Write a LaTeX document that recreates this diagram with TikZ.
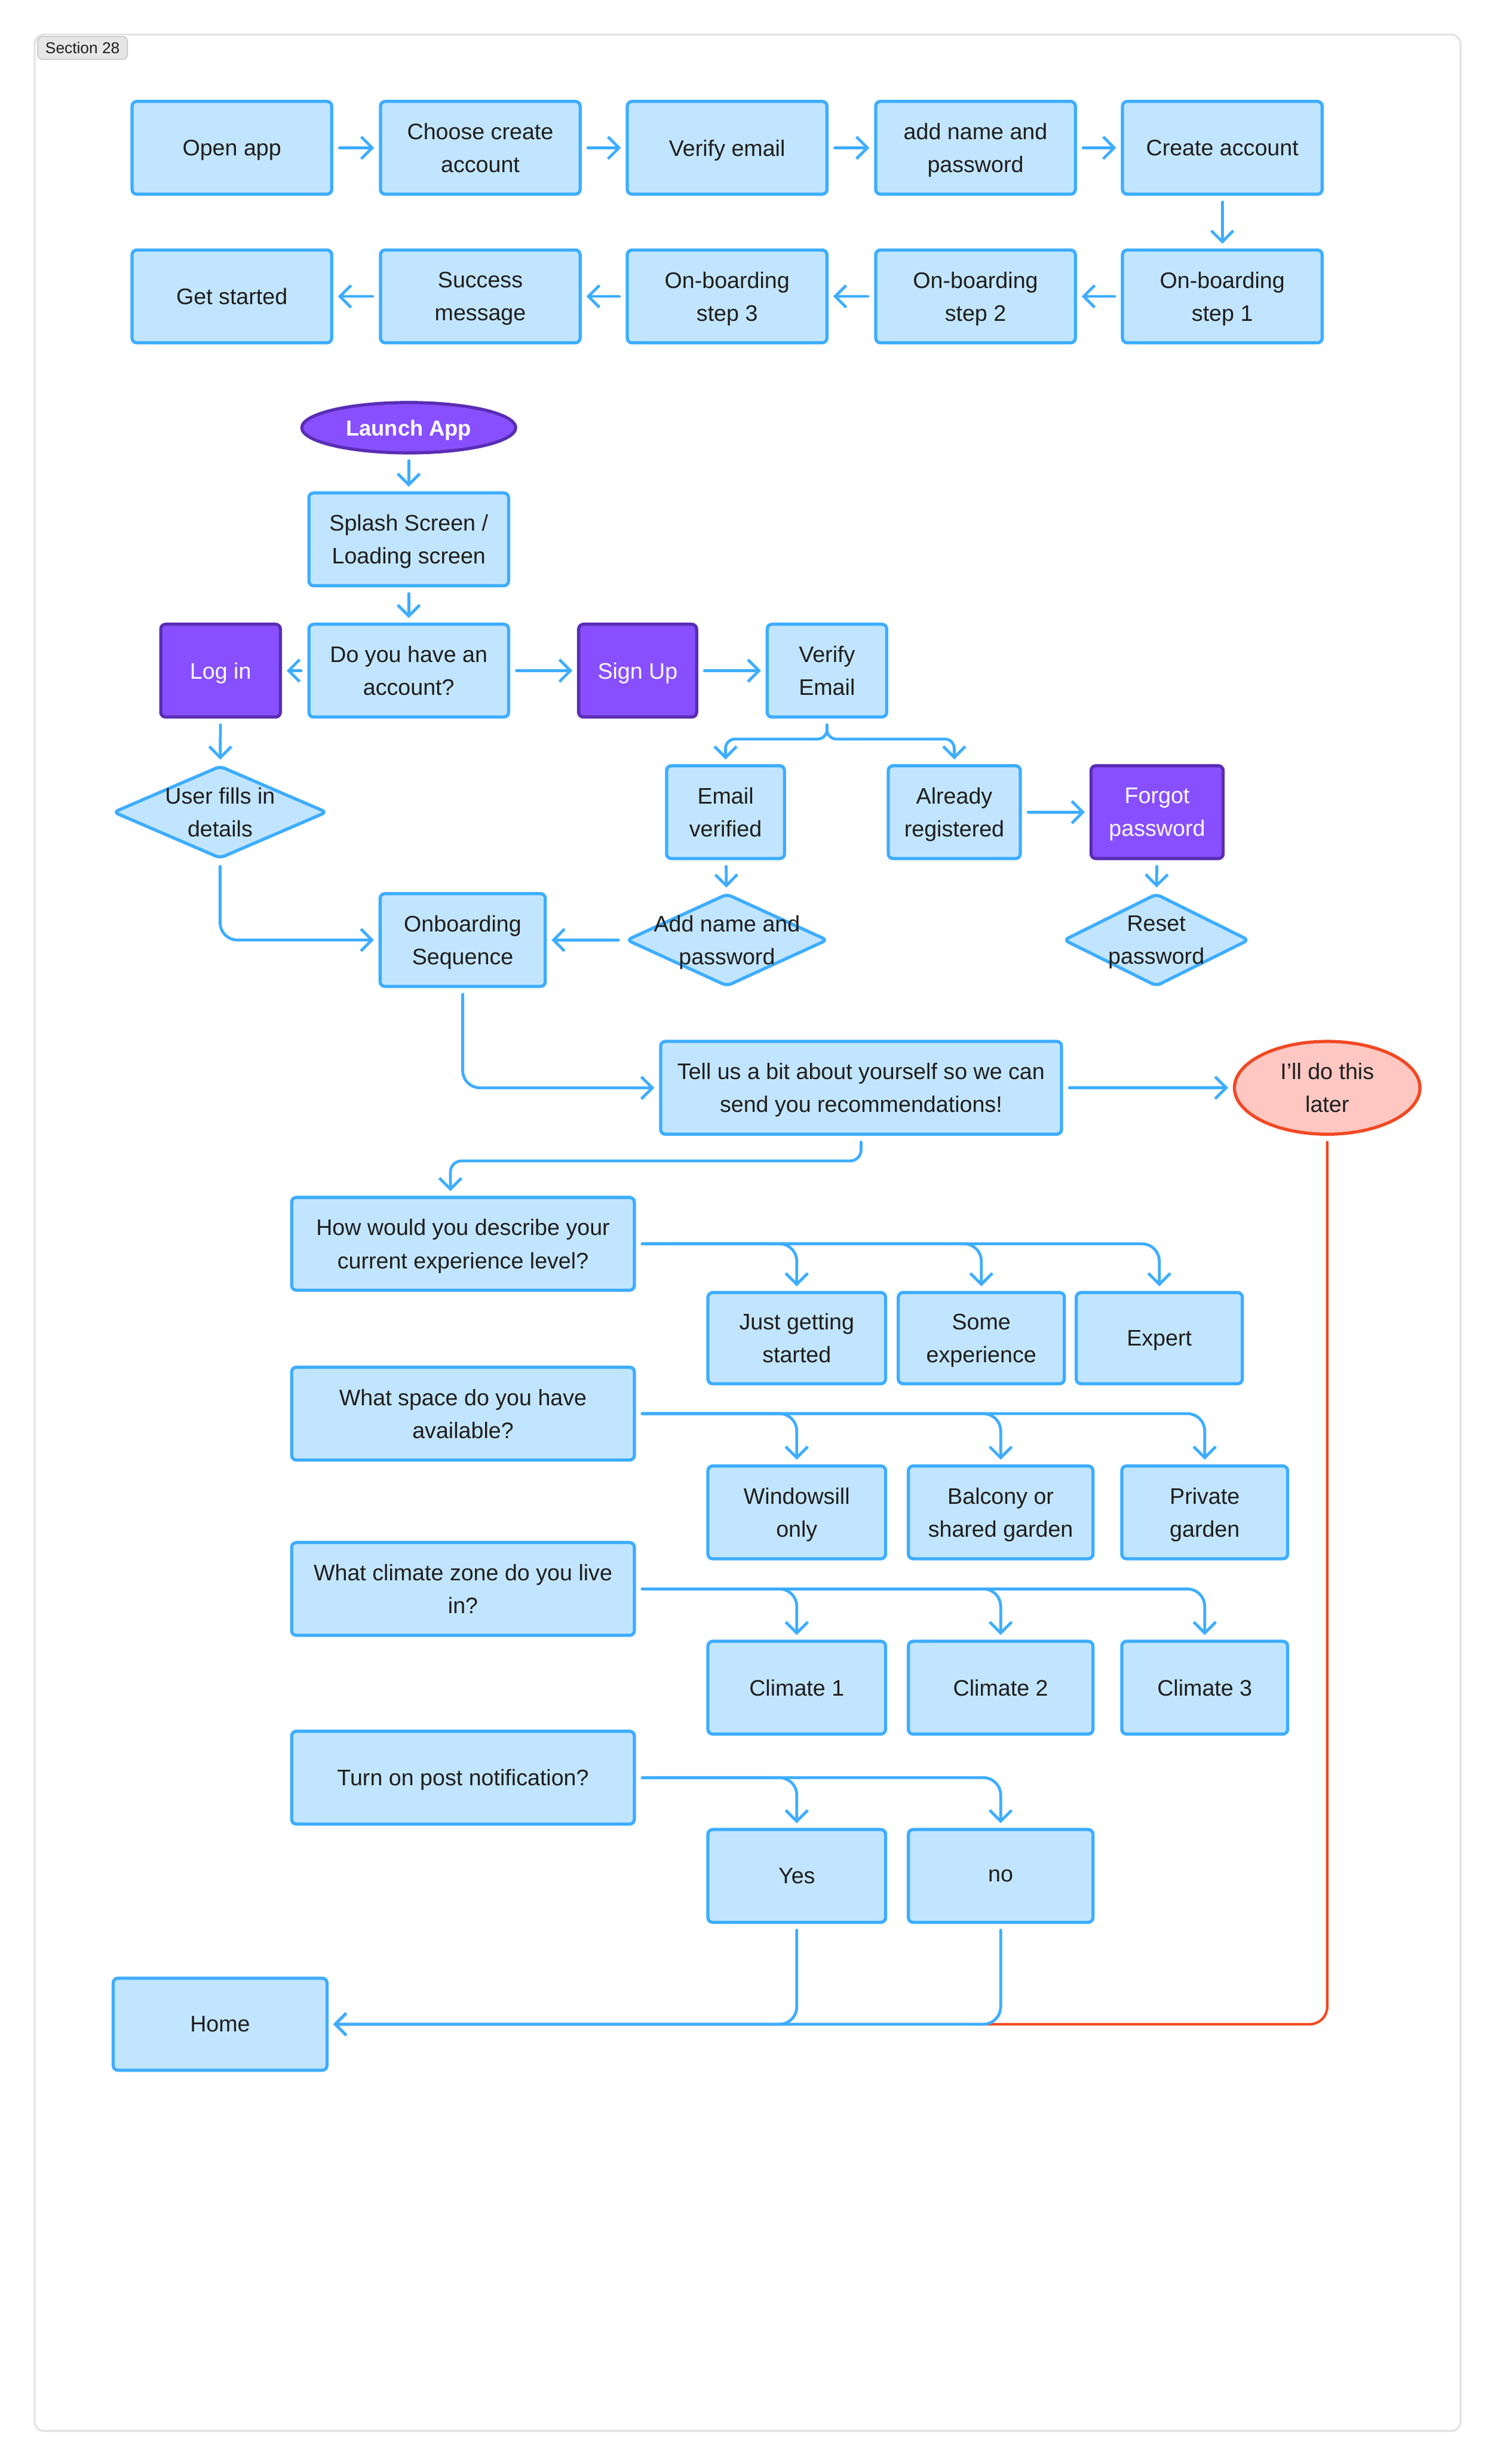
\documentclass[tikz,border=0pt]{standalone}
\usepackage{fontspec}
\setmainfont{Liberation Sans}
\usetikzlibrary{arrows.meta,shapes.geometric}
\definecolor{bfill}{HTML}{C2E5FF}
\definecolor{bstroke}{HTML}{3DADFF}
\definecolor{pfill}{HTML}{874FFF}
\definecolor{pstroke}{HTML}{5A2DB5}
\definecolor{rfill}{HTML}{FFC7C2}
\definecolor{rstroke}{HTML}{F24822}
\definecolor{txt}{HTML}{1E1E1E}
\definecolor{framec}{HTML}{E2E2E2}
\definecolor{secfill}{HTML}{E6E6E6}
\definecolor{secstroke}{HTML}{C4C4C4}
\newcommand\mfont{\fontsize{14.3}{21}\selectfont}
\begin{document}
\begin{tikzpicture}[x=1pt,y=-1pt,
  sz/.style 2 args={minimum width=#1pt, minimum height=#2pt},
  box/.style={draw=bstroke, fill=bfill, line width=2pt, rounded corners=3pt, text=txt, font=\mfont, align=center, inner sep=0pt, text depth=0pt},
  pbox/.style={box, draw=pstroke, fill=pfill, text=white},
  dia/.style={diamond, draw=bstroke, fill=bfill, line width=2pt, rounded corners=3pt, inner sep=0pt},
  dlab/.style={text=txt, font=\mfont, align=center, inner sep=0pt, text depth=0pt},
  conn/.style={draw=bstroke, line width=1.8pt, line cap=round, -{Straight Barb[length=7pt,width=14pt]}, shorten <=4pt, shorten >=3pt, rounded corners=11pt},
  rconn/.style={conn, draw=rstroke, line width=1.6pt},
  frame/.style={draw=framec, line width=1.2pt, fill=white, rounded corners=6pt, inner sep=0pt},
  seclab/.style={draw=secstroke, fill=secfill, line width=0.6pt, rounded corners=3pt, text=txt, font=\fontsize{10}{12}\selectfont, inner sep=0pt, text depth=0pt}
]
\fill[white] (0,0) rectangle (950,1567);
\useasboundingbox (0,0) rectangle (950,1567);

% frame and section label
\node[frame, sz={907}{1524}] (frame) at (475.5,784) {};
\node[seclab, sz={57}{14.5}] (sec) at (52.5,30.5) {Section 28};

% top rows
\node[box, sz={127}{59}] (open) at (147.5,94) {Open app};
\node[box, sz={127}{59}] (choose) at (305.5,94) {Choose create\\account};
\node[box, sz={127}{59}] (verifye) at (462.5,94) {Verify email};
\node[box, sz={127}{59}] (addnp) at (620.5,94) {add name and\\password};
\node[box, sz={127}{59}] (create) at (777.5,94) {Create account};
\node[box, sz={127}{59}] (getstarted) at (147.5,188.5) {Get started};
\node[box, sz={127}{59}] (success) at (305.5,188.5) {Success\\message};
\node[box, sz={127}{59}] (step3) at (462.5,188.5) {On-boarding\\step 3};
\node[box, sz={127}{59}] (step2) at (620.5,188.5) {On-boarding\\step 2};
\node[box, sz={127}{59}] (step1) at (777.5,188.5) {On-boarding\\step 1};

\draw[conn] (open) -- (choose);
\draw[conn] (choose) -- (verifye);
\draw[conn] (verifye) -- (addnp);
\draw[conn] (addnp) -- (create);
\draw[conn] (create) -- (step1);
\draw[conn] (step1) -- (step2);
\draw[conn] (step2) -- (step3);
\draw[conn] (step3) -- (success);
\draw[conn] (success) -- (getstarted);

% flow
\node[ellipse, draw=pstroke, fill=pfill, line width=2pt, inner sep=0pt, sz={136}{32}, text=white, text depth=0pt, font=\fontsize{13.8}{16}\selectfont\bfseries] (launch) at (260,272) {Launch App};
\node[box, sz={127}{59}] (splash) at (260,343) {Splash Screen /\\Loading screen};
\node[box, sz={127}{59}] (doyou) at (260,426.5) {Do you have an\\account?};
\node[pbox, sz={76}{59}] (login) at (140.3,426.5) {Log in};
\node[pbox, sz={75}{59}] (signup) at (405.6,426.5) {Sign Up};
\node[box, sz={76}{59}] (verify) at (526,426.5) {Verify\\Email};
\node[dia, sz={136}{59}, label={[dlab]center:User fills in\\details}] (userfills) at (140,516.5) {};
\node[box, sz={75}{59}] (emailver) at (461.5,516.5) {Email\\verified};
\node[box, sz={84}{59}] (already) at (607,516.5) {Already\\registered};
\node[pbox, sz={84}{59}] (forgot) at (736,516.5) {Forgot\\password};
\node[dia, sz={128}{59}, label={[dlab]center:Add name and\\password}] (addname) at (462.4,597.8) {};
\node[dia, sz={118}{59}, label={[dlab]center:Reset\\password}] (reset) at (735.5,597.8) {};
\node[box, sz={105}{59}] (onboard) at (294.3,597.8) {Onboarding\\Sequence};
\node[box, sz={255}{59}] (tell) at (547.7,691.8) {Tell us a bit about yourself so we can\\send you recommendations!};
\node[ellipse, draw=rstroke, fill=rfill, line width=2pt, inner sep=0pt, sz={118}{59}, text=txt, text depth=0pt, font=\mfont, align=center] (later) at (844.2,691.8) {I’ll do this\\later};

\draw[conn] (launch) -- (splash);
\draw[conn] (splash) -- (doyou);
\draw[conn] (doyou) -- (login);
\draw[conn] (doyou) -- (signup);
\draw[conn] (signup) -- (verify);
\draw[conn] (login) -- (userfills);
\draw[conn, rounded corners=6pt] (verify.south) -- ++(0,13) -| (emailver.north);
\draw[conn, rounded corners=6pt] (verify.south) -- ++(0,13) -| (already.north);
\draw[conn] (already) -- (forgot);
\draw[conn] (forgot) -- (reset);
\draw[conn] (emailver) -- (addname);
\draw[conn] (addname) -- (onboard);
\draw[conn] (userfills.south) |- (onboard.west);
\draw[conn] (onboard.south) |- (tell.west);
\draw[conn] (tell) -- (later);

% questions
\node[box, sz={218}{59}] (how) at (294.5,791) {How would you describe your\\current experience level?};
\node[box, sz={113}{58}] (just) at (506.8,851) {Just getting\\started};
\node[box, sz={105.6}{58}] (some) at (624.2,851) {Some\\experience};
\node[box, sz={105.6}{58}] (expert) at (737.4,851) {Expert};

\node[box, sz={218}{59}] (space) at (294.5,899) {What space do you have\\available?};
\node[box, sz={113}{59}] (window) at (506.8,961.8) {Windowsill\\only};
\node[box, sz={117.4}{59}] (balcony) at (636.5,961.8) {Balcony or\\shared garden};
\node[box, sz={105.5}{59}] (private) at (766.3,961.8) {Private\\garden};

\node[box, sz={218}{59}] (climate) at (294.5,1010.5) {What climate zone do you live\\in?};
\node[box, sz={113}{59}] (cone) at (506.8,1073.3) {Climate 1};
\node[box, sz={117.4}{59}] (ctwo) at (636.5,1073.3) {Climate 2};
\node[box, sz={105.5}{59}] (cthree) at (766.3,1073.3) {Climate 3};

\node[box, sz={218}{59}] (notif) at (294.5,1130.5) {Turn on post notification?};
\node[box, sz={113}{59}] (yes) at (506.8,1193) {Yes};
\node[box, sz={117.4}{59}] (no) at (636.5,1193) {no};

\node[box, sz={136}{58.5}] (home) at (140,1287.3) {Home};

\draw[conn, rounded corners=7pt] (tell.south) -- ++(0,16) -| ([xshift=-8pt]how.north);
\draw[conn] (how.east) -| (just.north);
\draw[conn] (how.east) -| (some.north);
\draw[conn] (how.east) -| (expert.north);
\draw[conn] (space.east) -| (window.north);
\draw[conn] (space.east) -| (balcony.north);
\draw[conn] (space.east) -| (private.north);
\draw[conn] (climate.east) -| (cone.north);
\draw[conn] (climate.east) -| (ctwo.north);
\draw[conn] (climate.east) -| (cthree.north);
\draw[conn] (notif.east) -| (yes.north);
\draw[conn] (notif.east) -| (no.north);

\draw[rconn] (later.south) |- (home.east);
\draw[conn] (no.south) |- (home.east);
\draw[conn] (yes.south) |- (home.east);
\end{tikzpicture}
\end{document}
